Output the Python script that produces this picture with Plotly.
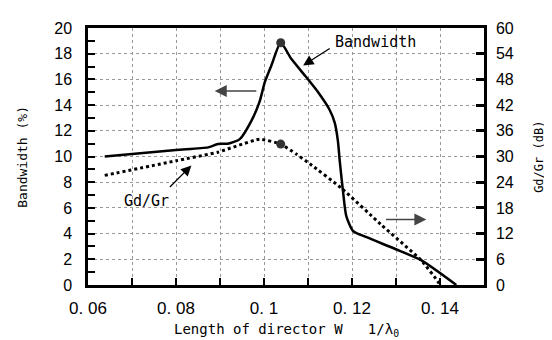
import plotly.graph_objects as go

# Bandwidth (%) vs director length (left axis)
bw_x = [0.0638, 0.08, 0.0873, 0.0895, 0.0918, 0.0945, 0.0971, 0.0990, 0.1002, 0.1017,
        0.1038, 0.1062, 0.1093, 0.1123, 0.1149, 0.1161, 0.1168, 0.1172, 0.1180, 0.1187,
        0.1202, 0.1233, 0.1297, 0.1357, 0.1437]
bw_y = [10.0, 10.5, 10.71, 10.97, 11.0, 11.35, 12.75, 14.27, 15.8, 17.1,
        18.85, 17.6, 16.3, 15.0, 13.64, 12.6, 11.2, 9.7, 7.15, 5.37,
        4.22, 3.72, 2.82, 1.93, 0.0]

# Gd/Gr (dB) vs director length (right axis)
gd_x = [0.0638, 0.08, 0.0895, 0.0990, 0.1038, 0.1073, 0.1104, 0.1176, 0.1265, 0.1357, 0.1395, 0.1400]
gd_y = [25.6, 29.0, 31.0, 34.05, 32.9, 30.6, 28.3, 22.6, 14.2, 5.8, 0.85, 0.0]

# highlighted points
pk_x = [0.1038]
pk_bw = [18.85]
pk_gd = [32.9]

x_ticks = [0.06, 0.07, 0.08, 0.09, 0.10, 0.11, 0.12, 0.13, 0.14, 0.15]
x_text = ["0. 06", "", "0. 08", "", "0. 1", "", "0. 12", "", "0. 14", ""]
yl_ticks = list(range(0, 21, 2))
yr_ticks = list(range(0, 61, 6))

fig = go.Figure()
fig.add_trace(go.Scatter(x=bw_x, y=bw_y, mode="lines",
                         line=dict(color="black", width=2.5, shape="spline", smoothing=0.6),
                         showlegend=False))
fig.add_trace(go.Scatter(x=gd_x, y=gd_y, mode="lines", yaxis="y2",
                         line=dict(color="black", width=3, dash="dot", shape="spline", smoothing=0.4),
                         showlegend=False))
fig.add_trace(go.Scatter(x=pk_x, y=pk_bw, mode="markers",
                         marker=dict(color="#333333", size=9), showlegend=False))
fig.add_trace(go.Scatter(x=pk_x, y=pk_gd, mode="markers", yaxis="y2",
                         marker=dict(color="#333333", size=9), showlegend=False))

tick_font = dict(family="Liberation Sans, Arial", size=16, color="black")
mono = "DejaVu Sans Mono, monospace"

fig.update_layout(
    width=552, height=340,
    margin=dict(l=80, r=76, t=15, b=63),
    paper_bgcolor="white", plot_bgcolor="white",
    xaxis=dict(range=[0.06, 0.15], tickvals=x_ticks, ticktext=x_text,
               ticks="inside", ticklen=7, tickwidth=2, tickcolor="black",
               showline=True, linewidth=2.5, linecolor="black", mirror=True,
               showgrid=True, gridcolor="#999999", griddash="dot", gridwidth=1,
               tickfont=dict(family="Liberation Sans, Arial", size=17, color="black"),
               ticklabelstandoff=6, zeroline=False),
    yaxis=dict(range=[0, 20], tickvals=yl_ticks,
               ticks="inside", ticklen=7, tickwidth=2, tickcolor="black",
               minor=dict(dtick=1, ticks="inside", ticklen=7, tickwidth=2, tickcolor="black", showgrid=False),
               showline=True, linewidth=2.5, linecolor="black",
               showgrid=True, gridcolor="#999999", griddash="dot", gridwidth=1,
               tickfont=tick_font, ticklabelstandoff=10, zeroline=False),
    yaxis2=dict(range=[0, 60], tickvals=yr_ticks, overlaying="y", side="right",
                ticks="inside", ticklen=8, tickwidth=2.5, tickcolor="black",
                showline=True, linewidth=2.5, linecolor="black",
                showgrid=False, tickfont=tick_font, ticklabelstandoff=6, zeroline=False),
    annotations=[
        dict(text="Bandwidth (%)", xref="paper", yref="paper", x=-0.19, y=0.5,
             textangle=-90, showarrow=False, font=dict(family=mono, size=13, color="black")),
        dict(text="Gd/Gr (dB)", xref="paper", yref="paper", x=1.16, y=0.5,
             textangle=-90, showarrow=False, font=dict(family=mono, size=12, color="black")),
        dict(text="Length of director W&nbsp;&nbsp;&nbsp;1/λ<sub>0</sub>", xref="paper", yref="paper",
             x=0.5, y=-0.175, yanchor="middle", showarrow=False,
             font=dict(family=mono, size=14, color="black")),
        dict(text="Bandwidth", x=0.1253, y=18.9, showarrow=False,
             font=dict(family=mono, size=15, color="black")),
        dict(text="", x=0.1089, y=17.08, ax=28, ay=-18, showarrow=True,
             arrowhead=2, arrowsize=1.6, arrowwidth=1.3, arrowcolor="black"),
        dict(text="Gd/Gr", x=0.0733, y=6.5, showarrow=False,
             font=dict(family=mono, size=15, color="black")),
        dict(text="", x=0.0835, y=9.3, ax=-23, ay=23, showarrow=True,
             arrowhead=2, arrowsize=1.6, arrowwidth=1.3, arrowcolor="black"),
        dict(text="", x=0.0888, y=15.1, ax=0.0986, ay=15.1, axref="x", ayref="y",
             showarrow=True, arrowhead=2, arrowsize=1.6, arrowwidth=1.5, arrowcolor="#444444"),
        dict(text="", x=0.1369, y=5.1, ax=0.1274, ay=5.1, axref="x", ayref="y",
             showarrow=True, arrowhead=2, arrowsize=1.6, arrowwidth=1.5, arrowcolor="#444444"),
    ],
)

fig.write_html("out.html")
